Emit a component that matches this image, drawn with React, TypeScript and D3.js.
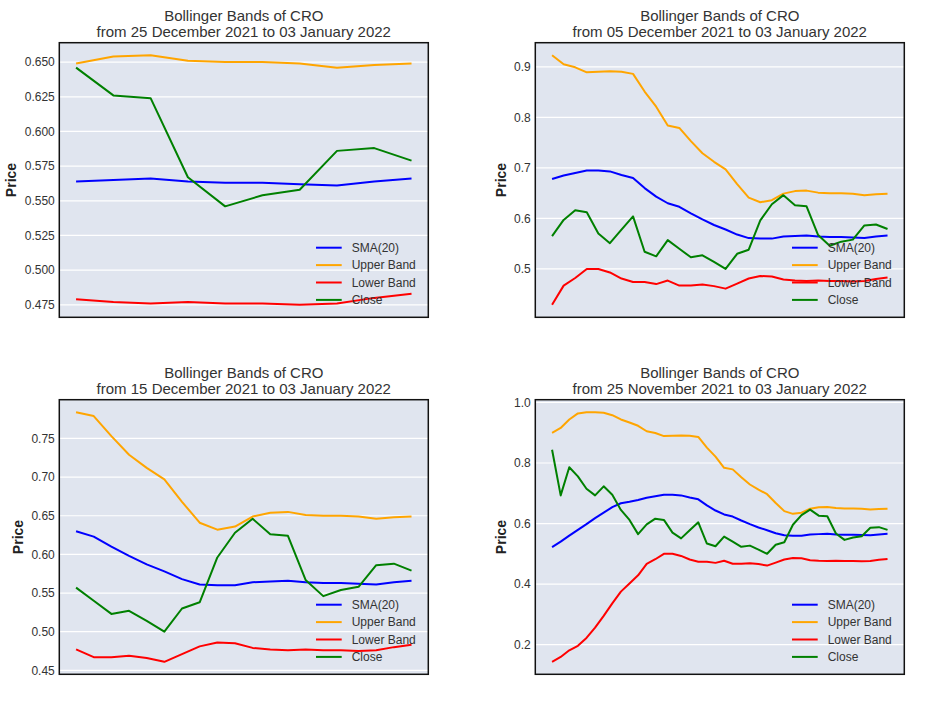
import { useEffect, useRef } from "react";
import * as d3 from "d3";

// CRO daily series, 25 Nov 2021 .. 03 Jan 2022 (40 days)
const closeValues = [
  0.844, 0.693, 0.786, 0.756, 0.715, 0.693, 0.723, 0.695, 0.645, 0.612,
  0.565, 0.597, 0.616, 0.612, 0.570, 0.551, 0.578, 0.604, 0.534, 0.525,
  0.557, 0.540, 0.523, 0.527, 0.514, 0.500, 0.530, 0.538, 0.596, 0.628,
  0.646, 0.626, 0.624, 0.567, 0.546, 0.554, 0.558, 0.586, 0.588, 0.579,
];
const smaValues = [
  0.522, 0.540, 0.560, 0.579, 0.598, 0.618, 0.636, 0.654, 0.667, 0.672,
  0.678, 0.685, 0.690, 0.695, 0.695, 0.693, 0.686, 0.680, 0.660, 0.643,
  0.630, 0.623, 0.610, 0.598, 0.587, 0.578, 0.568, 0.561, 0.560, 0.560,
  0.564, 0.565, 0.566, 0.564, 0.563, 0.563, 0.562, 0.561, 0.564, 0.566,
];
const upperValues = [
  0.900, 0.916, 0.944, 0.964, 0.968, 0.968, 0.966, 0.958, 0.944, 0.934,
  0.923, 0.905, 0.899, 0.889, 0.890, 0.891, 0.890, 0.886, 0.851, 0.821,
  0.784, 0.779, 0.753, 0.729, 0.712, 0.697, 0.668, 0.641, 0.632, 0.636,
  0.649, 0.654, 0.655, 0.651, 0.650, 0.650, 0.649, 0.646, 0.648, 0.649,
];
const lowerValues = [
  0.143, 0.159, 0.181, 0.196, 0.222, 0.256, 0.295, 0.336, 0.375, 0.402,
  0.429, 0.467, 0.482, 0.500, 0.500, 0.493, 0.481, 0.474, 0.474, 0.470,
  0.477, 0.467, 0.467, 0.469, 0.466, 0.461, 0.471, 0.481, 0.486, 0.485,
  0.479, 0.477, 0.476, 0.477, 0.476, 0.476, 0.475, 0.476, 0.480, 0.483,
];

// one panel per window length (days before 03 Jan 2022)
const windowDays = [10, 30, 20, 40];
const startLabels = [
  "25 December 2021",
  "05 December 2021",
  "15 December 2021",
  "25 November 2021",
];
const yTicks = [
  [0.475, 0.5, 0.525, 0.55, 0.575, 0.6, 0.625, 0.65],
  [0.5, 0.6, 0.7, 0.8, 0.9],
  [0.45, 0.5, 0.55, 0.6, 0.65, 0.7, 0.75],
  [0.2, 0.4, 0.6, 0.8, 1.0],
];
const tickFormats = [".3f", ".1f", ".2f", ".1f"];

const seriesNames = ["SMA(20)", "Upper Band", "Lower Band", "Close"];
const seriesColors = ["#0000ff", "#ffa500", "#ff0000", "#008000"];
const allSeries = [smaValues, upperValues, lowerValues, closeValues];

const FONT = "'Liberation Sans', Arial, Helvetica, sans-serif";

const App: React.FC = () => {
  const svgRef = useRef<SVGSVGElement>(null);

  useEffect(() => {
    if (!svgRef.current) return;
    const width = 952;
    const height = 714;
    const svg = d3.select(svgRef.current).attr("width", width).attr("height", height);
    svg.selectAll("*").remove();

    svg.append("rect").attr("width", width).attr("height", height).attr("fill", "#fff");

    const cellX = [0, 476];
    const cellY = [0, 357];
    const left = 59.3;
    const right = 428.3;
    const top = 42.7;
    const bottom = 317.3;

    windowDays.forEach((days, p) => {
      const g = svg
        .append("g")
        .attr("transform", `translate(${cellX[p % 2]},${cellY[Math.floor(p / 2)]})`);

      const series = allSeries.map((s) => s.slice(s.length - days));
      const lo = d3.min(series, (s) => d3.min(s)) as number;
      const hi = d3.max(series, (s) => d3.max(s)) as number;
      const pad = (hi - lo) * 0.05;

      const x = d3
        .scaleLinear()
        .domain([-(days - 1) * 0.05, (days - 1) * 1.05])
        .range([left, right]);
      const y = d3.scaleLinear().domain([lo - pad, hi + pad]).range([bottom, top]);

      g.append("rect")
        .attr("x", left)
        .attr("y", top)
        .attr("width", right - left)
        .attr("height", bottom - top)
        .attr("fill", "#e0e5ef");

      g.selectAll("line.grid")
        .data(yTicks[p])
        .join("line")
        .attr("class", "grid")
        .attr("x1", left)
        .attr("x2", right)
        .attr("y1", (d) => y(d))
        .attr("y2", (d) => y(d))
        .attr("stroke", "#fff")
        .attr("stroke-width", 1.2);

      const fmt = d3.format(tickFormats[p]);
      const tickG = g.append("g");
      tickG
        .selectAll("text")
        .data(yTicks[p])
        .join("text")
        .attr("x", left - 4.5)
        .attr("y", (d) => y(d))
        .attr("dy", "0.35em")
        .attr("text-anchor", "end")
        .style("font-family", FONT)
        .style("font-size", "12px")
        .style("fill", "#333")
        .text((d) => fmt(d));

      const tickWidth = (tickG.node() as SVGGElement).getBBox().width;
      g.append("text")
        .attr("transform", `translate(${left - 4.5 - tickWidth - 13},${(top + bottom) / 2}) rotate(-90)`)
        .attr("dy", "0.35em")
        .attr("text-anchor", "middle")
        .style("font-family", FONT)
        .style("font-size", "14px")
        .style("font-weight", "bold")
        .style("fill", "#222")
        .text("Price");

      const line = d3
        .line<number>()
        .x((_, i) => x(i))
        .y((d) => y(d));

      series.forEach((s, i) => {
        g.append("path")
          .attr("d", line(s))
          .attr("fill", "none")
          .attr("stroke", seriesColors[i])
          .attr("stroke-width", 2)
          .attr("stroke-linejoin", "round");
      });

      // legend, lower right, no frame
      seriesNames.forEach((name, i) => {
        const ly = bottom - 69.6 + i * 17.4;
        g.append("line")
          .attr("x1", right - 112.3)
          .attr("x2", right - 86.6)
          .attr("y1", ly)
          .attr("y2", ly)
          .attr("stroke", seriesColors[i])
          .attr("stroke-width", 2);
        g.append("text")
          .attr("x", right - 76.6)
          .attr("y", ly)
          .attr("dy", "0.35em")
          .style("font-family", FONT)
          .style("font-size", "12px")
          .style("fill", "#333")
          .text(name);
      });

      g.append("rect")
        .attr("x", left)
        .attr("y", top)
        .attr("width", right - left)
        .attr("height", bottom - top)
        .attr("fill", "none")
        .attr("stroke", "#111")
        .attr("stroke-width", 1.5);

      const cx = (left + right) / 2;
      [`Bollinger Bands of CRO`, `from ${startLabels[p]} to 03 January 2022`].forEach((t, i) => {
        g.append("text")
          .attr("x", cx)
          .attr("y", 20.5 + i * 16.3)
          .attr("text-anchor", "middle")
          .style("font-family", FONT)
          .style("font-size", "15px")
          .style("fill", "#333")
          .text(t);
      });
    });
  }, []);

  return (
    <div style={{ position: "absolute", left: 0, top: 0, width: 952, height: 714 }}>
      <svg ref={svgRef} style={{ display: "block" }} />
    </div>
  );
};

export default App;
